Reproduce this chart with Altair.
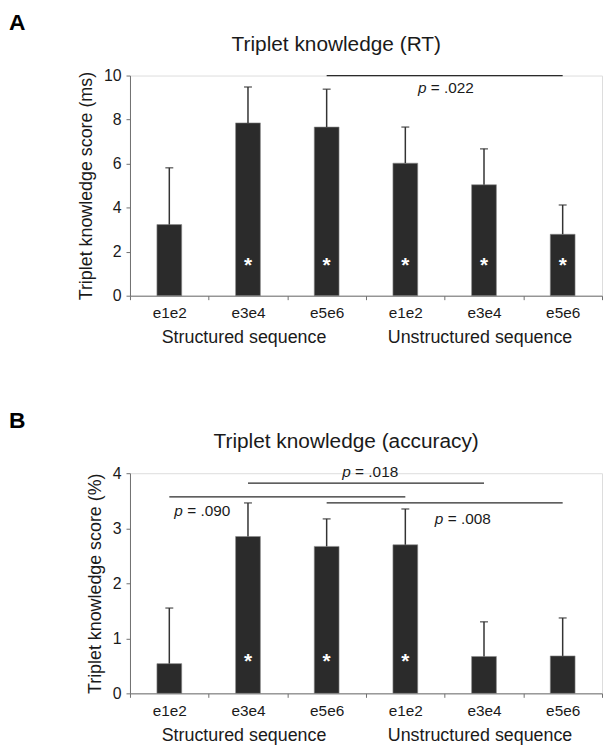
import altair as alt
import pandas as pd

# ---------------- data ----------------
groups = ["Structured", "Structured", "Structured", "Unstructured", "Unstructured", "Unstructured"]
sessions = ["e1e2", "e3e4", "e5e6", "e1e2", "e3e4", "e5e6"]
group_labels = ["Structured sequence", "Unstructured sequence"]

rt_mean = [3.23, 7.85, 7.66, 6.02, 5.04, 2.79]
rt_err_top = [5.81, 9.48, 9.38, 7.66, 6.67, 4.12]
rt_signif = [False, True, True, True, True, True]

acc_mean = [0.54, 2.85, 2.67, 2.70, 0.67, 0.68]
acc_err_top = [1.55, 3.46, 3.17, 3.35, 1.30, 1.37]
acc_signif = [False, True, True, True, False, False]

# comparisons: from index, to index, bar level, p text
rt_comp_from = [2]
rt_comp_to = [5]
rt_comp_level = [10.0]
rt_comp_p = [".022"]

acc_comp_from = [1, 0, 2]
acc_comp_to = [4, 3, 5]
acc_comp_level = [3.82, 3.57, 3.46]
acc_comp_p = [".018", ".090", ".008"]

keys = [f"{g}|{s}" for g, s in zip(groups, sessions)]

FONT = "Liberation Sans"
W, H = 476, 222
INK = "#1a1a1a"
AXC = "#6f6f6f"


def xdef(field="key", bp=None):
    kw = {}
    if bp is not None:
        kw["bandPosition"] = bp
    return alt.X(
        f"{field}:N",
        scale=alt.Scale(domain=keys, paddingInner=0, paddingOuter=0),
        axis=alt.Axis(
            title=None, labelAngle=0, labelExpr="split(datum.label, '|')[1]",
            tickBand="extent", tickSize=4, labelPadding=6, labelFontSize=15.5,
            labelColor=INK, domainColor=AXC, tickColor=AXC, labelFont=FONT,
        ),
        **kw,
    )


def panel(means, tops, signif, c_from, c_to, c_level, c_p, text_pos,
          ymax, yvals, ytitle, title, title_x, letter, star_y):
    df = pd.DataFrame({
        "key": keys, "mean": means, "top": tops,
        "star": ["*" if s else "" for s in signif],
    })
    yscale = alt.Scale(domain=[0, ymax], nice=False, zero=True)
    yax = alt.Axis(
        values=yvals, format="d", grid=False, tickSize=4, labelPadding=5, labelFontSize=16,
        labelColor=INK, domainColor=AXC, tickColor=AXC, title=ytitle,
        titleFontSize=18, titleFontWeight="normal", titleColor=INK,
        titlePadding=8, labelFont=FONT, titleFont=FONT,
    )
    y = alt.Y("mean:Q", scale=yscale, axis=yax)

    base = alt.Chart(df)
    bars = base.mark_bar(size=25, color="#2b2b2b", stroke="#8c8c8c", strokeWidth=0.6).encode(
        x=xdef(), y=y)
    stems = base.mark_rule(color="#333333", strokeWidth=1.5).encode(
        x=xdef(), y=alt.Y("mean:Q", scale=yscale), y2="top:Q")
    caps = base.mark_tick(color="#333333", size=8, thickness=1.5).encode(
        x=xdef(), y=alt.Y("top:Q", scale=yscale))
    stars = base.transform_filter("datum.star != ''").mark_text(
        color="white", fontSize=21, fontWeight="bold", baseline="alphabetic", dy=12, font=FONT
    ).encode(x=xdef(), y=alt.value(H - star_y / ymax * H), text="star:N")

    layers = [bars, stems, caps, stars]

    comp_df = pd.DataFrame({
        "k1": [keys[i] for i in c_from], "k2": [keys[i] for i in c_to],
        "level": c_level,
    })
    rules = alt.Chart(comp_df).mark_rule(color="#2a2a2a", strokeWidth=1.3).encode(
        x=xdef("k1"), x2="k2:N", y=alt.Y("level:Q", scale=yscale))
    layers.append(rules)

    for (ki, bp, dx, ty), p in zip(text_pos, c_p):
        tdf = pd.DataFrame({"key": [keys[ki]], "ty": [ty], "p": ["p"], "v": ["= " + p]})
        tb = alt.Chart(tdf)
        layers.append(tb.mark_text(align="left", baseline="middle", fontSize=15.5, fontStyle="italic",
                                   dx=dx, color=INK, font=FONT).encode(
            x=xdef(bp=bp), y=alt.Y("ty:Q", scale=yscale), text="p:N"))
        layers.append(tb.mark_text(align="left", baseline="middle", fontSize=15.5,
                                   dx=dx + 13, color=INK, font=FONT).encode(
            x=xdef(bp=bp), y=alt.Y("ty:Q", scale=yscale), text="v:N"))

    gdf = pd.DataFrame({"key": [keys[1], keys[4]], "g": group_labels})
    layers.append(alt.Chart(gdf).mark_text(fontSize=18, baseline="middle", dx=-4, color=INK, font=FONT).encode(
        x=xdef(), y=alt.value(H + 43), text="g:N"))

    tdf = pd.DataFrame({"t": [title], "l": [letter]})
    layers.append(alt.Chart(tdf).mark_text(fontSize=21, baseline="middle", color=INK, font=FONT).encode(
        x=alt.value(title_x), y=alt.value(-31), text="t:N"))
    layers.append(alt.Chart(tdf).mark_text(fontSize=23, fontWeight="bold", align="left", baseline="middle",
                                           color="#000", font=FONT).encode(
        x=alt.value(-122), y=alt.value(-53), text="l:N"))

    return alt.layer(*layers).properties(width=W, height=H)


pA = panel(rt_mean, rt_err_top, rt_signif, rt_comp_from, rt_comp_to, rt_comp_level, rt_comp_p,
           [(4, 0, -27, 9.41)],
           10, [0, 2, 4, 6, 8, 10], "Triplet knowledge score (ms)",
           "Triplet knowledge (RT)", 208, "A", 1.62)
pB = panel(acc_mean, acc_err_top, acc_signif, acc_comp_from, acc_comp_to, acc_comp_level, acc_comp_p,
           [(3, 0, -24, 4.02), (0, 0.5, 5, 3.32), (4, 0, -10, 3.17)],
           4, [0, 1, 2, 3, 4], "Triplet knowledge score (%)",
           "Triplet knowledge (accuracy)", 218, "B", 0.67)

chart = alt.vconcat(pA, pB, spacing=61).properties(
    padding={"left": 0, "top": 0, "right": 0, "bottom": 0}
).configure_view(stroke=None).configure(font=FONT)

chart.save("out.html", embed_options={"renderer": "svg", "actions": False})
